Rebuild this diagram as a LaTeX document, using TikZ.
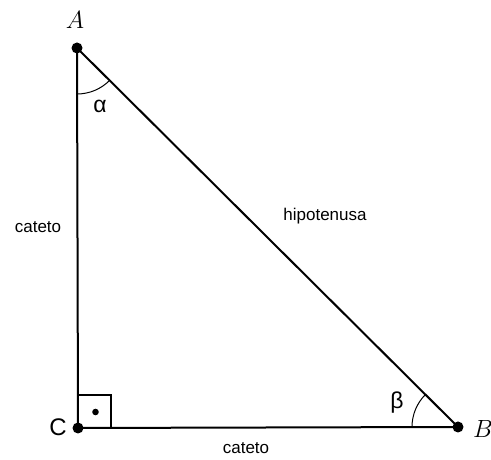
\documentclass[tikz,border=0pt]{standalone}
\usepackage{fontspec}
\setmainfont{Liberation Sans}
\usetikzlibrary{calc}
\begin{document}
\begin{tikzpicture}[x=1pt,y=1pt,
  side/.style={line width=2pt},
  vdot/.style={circle,fill=black,inner sep=0pt,minimum size=11pt},
  lbl/.style={font=\fontsize{17}{20}\selectfont},
  glbl/.style={font=\fontsize{23}{26}\selectfont},
  vlbl/.style={font=\fontsize{26}{30}\selectfont}]
\useasboundingbox (0,0) rectangle (491,460);
\coordinate (A) at (77,412);
\coordinate (C) at (78,32);
\coordinate (B) at (458,33);
% right angle mark
\draw[line width=1.2pt] ($(C)+(0,33)$) coordinate (s1) -- ++(33,0) coordinate (s2) -- ++(0,-33);
\fill ($(C)+(17.5,16)$) circle (3.3pt);
% angle arcs
\draw[line width=1pt] let \p1=($(B)-(A)$), \n1={atan2(\y1,\x1)} in
  ($(A)+(0,-46)$) arc[start angle=-90, end angle=\n1, radius=46];
\draw[line width=1pt] let \p1=($(A)-(B)$), \n1={atan2(\y1,\x1)} in
  ($(B)+(-46,0)$) arc[start angle=180, end angle=\n1, radius=46];
% triangle
\draw[side] (A) -- (C) -- (B) -- cycle;
\node[vdot] (nA) at (A) {};
\node[vdot] (nB) at (B) {};
\node[vdot] (nC) at (C) {};
% labels
\node[vlbl] (lA) at (75,440) {$A$};
\node[vlbl] (lB) at (483,31) {$B$};
\node[vlbl,font=\fontsize{24}{28}\selectfont] (lC) at (58,33) {C};
\node[glbl] (al) at (100,354) {α};
\node[glbl] (be) at (397,57) {β};
\node[lbl] (c1) at (38,233) {cateto};
\node[lbl] (h) at (325,244) {hipotenusa};
\node[lbl] (c2) at (246,12) {cateto};
\end{tikzpicture}
\end{document}
